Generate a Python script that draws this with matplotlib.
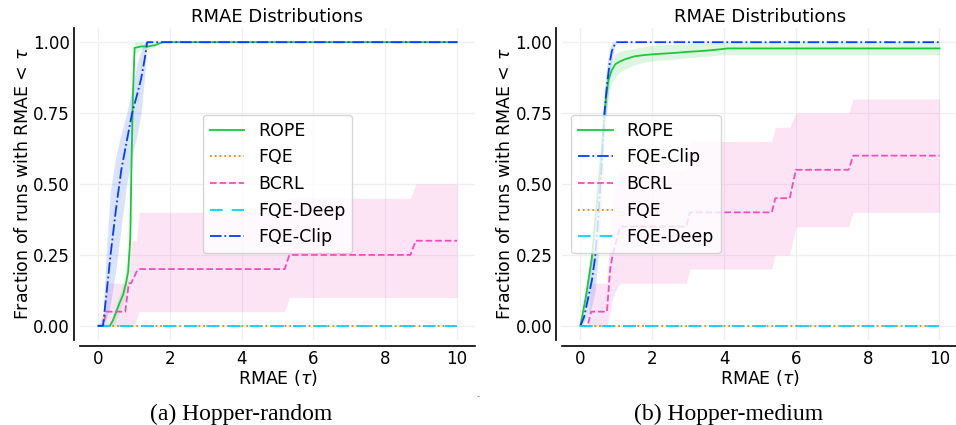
import matplotlib
matplotlib.use("Agg")
import matplotlib.pyplot as plt
import numpy as np

# colours (seaborn "bright")
GREEN = "#1ac938"
BLUE = "#023eff"
PINK = "#f14cc1"
ORANGE = "#ff7c00"
CYAN = "#00d7ff"

zero_tau = [0, 10]
zero_val = [0, 0]

# ---- Hopper-random ----
rope_r_tau = [0, 0.33, 0.42, 0.51, 0.6, 0.7, 0.78, 0.84, 0.9, 0.93, 0.97, 1.02, 1.2, 1.4, 1.6, 1.8, 10]
rope_r_mean = [0, 0, 0.02, 0.05, 0.08, 0.11, 0.15, 0.19, 0.31, 0.55, 0.8, 0.98, 0.985, 0.985, 0.99, 1.0, 1.0]
rope_r_lo = [0, 0, 0, 0.02, 0.05, 0.08, 0.11, 0.15, 0.25, 0.45, 0.72, 0.96, 0.975, 0.975, 0.985, 1.0, 1.0]
rope_r_hi = [0, 0, 0.04, 0.08, 0.11, 0.15, 0.2, 0.25, 0.4, 0.65, 0.88, 1.0, 1.0, 1.0, 1.0, 1.0, 1.0]

clip_r_tau = [0, 0.14, 0.25, 0.35, 0.5, 0.65, 0.8, 0.95, 1.1, 1.2, 1.3, 1.37, 10]
clip_r_mean = [0, 0, 0.13, 0.25, 0.41, 0.55, 0.65, 0.75, 0.82, 0.87, 0.94, 1.0, 1.0]
clip_r_lo = [0, 0, 0.03, 0.08, 0.2, 0.35, 0.5, 0.6, 0.68, 0.75, 0.88, 1.0, 1.0]
clip_r_hi = [0, 0.04, 0.3, 0.48, 0.6, 0.68, 0.75, 0.84, 0.93, 0.97, 1.0, 1.0, 1.0]

bcrl_r_tau = [0, 0.14, 0.23, 0.76, 0.86, 0.92, 1.02, 1.07, 1.15, 5.2, 5.33, 8.7, 8.85, 10]
bcrl_r_mean = [0, 0, 0.05, 0.05, 0.15, 0.15, 0.175, 0.19, 0.2, 0.2, 0.25, 0.25, 0.3, 0.3]
bcrl_r_lo = [0, 0, 0, 0, 0, 0, 0, 0.02, 0.05, 0.05, 0.1, 0.1, 0.1, 0.1]
bcrl_r_hi = [0, 0, 0.15, 0.15, 0.15, 0.3, 0.3, 0.3, 0.4, 0.4, 0.45, 0.45, 0.5, 0.5]

# ---- Hopper-medium ----
rope_m_tau = [0, 0.15, 0.32, 0.45, 0.55, 0.62, 0.67, 0.72, 0.78, 0.87, 0.97, 1.1, 1.25,
              1.5, 1.8, 2.1, 2.6, 3.0, 3.5, 3.9, 4.1, 10]
rope_m_mean = [0, 0.1, 0.24, 0.42, 0.56, 0.66, 0.74, 0.81, 0.865, 0.9, 0.922, 0.932, 0.94,
               0.95, 0.955, 0.958, 0.962, 0.966, 0.97, 0.975, 0.978, 0.978]
rope_m_lo = [0, 0.08, 0.2, 0.36, 0.5, 0.6, 0.68, 0.75, 0.81, 0.855, 0.875, 0.895, 0.905,
             0.92, 0.93, 0.935, 0.94, 0.945, 0.95, 0.955, 0.956, 0.956]
rope_m_hi = [0, 0.12, 0.28, 0.47, 0.62, 0.72, 0.8, 0.86, 0.91, 0.94, 0.96, 0.968, 0.972,
             0.978, 0.985, 0.99, 0.993, 0.995, 0.997, 0.999, 1.0, 1.0]

clip_m_tau = [0, 0.1, 0.22, 0.32, 0.41, 0.5, 0.6, 0.67, 0.75, 0.82, 0.88, 0.95, 1.01, 10]
clip_m_mean = [0, 0.03, 0.1, 0.16, 0.24, 0.38, 0.58, 0.75, 0.86, 0.93, 0.97, 0.99, 1.0, 1.0]
clip_m_lo = [0, 0.01, 0.04, 0.07, 0.12, 0.25, 0.45, 0.65, 0.78, 0.88, 0.94, 0.98, 1.0, 1.0]
clip_m_hi = [0, 0.05, 0.16, 0.25, 0.33, 0.5, 0.7, 0.84, 0.93, 0.98, 1.0, 1.0, 1.0, 1.0]

bcrl_m_tau = [0, 0.2, 0.3, 0.74, 0.83, 0.9, 1.0, 1.11, 2.95, 3.05, 5.33, 5.43, 5.83, 6.0, 7.47, 7.6, 10]
bcrl_m_mean = [0, 0, 0.05, 0.05, 0.2, 0.25, 0.3, 0.35, 0.35, 0.4, 0.4, 0.45, 0.45, 0.55, 0.55, 0.6, 0.6]
bcrl_m_lo = [0, 0, 0, 0, 0.05, 0.1, 0.13, 0.15, 0.15, 0.2, 0.2, 0.25, 0.25, 0.35, 0.35, 0.4, 0.4]
bcrl_m_hi = [0, 0, 0.15, 0.15, 0.35, 0.45, 0.53, 0.55, 0.55, 0.65, 0.65, 0.7, 0.7, 0.75, 0.75, 0.8, 0.8]

yticks = [0.0, 0.25, 0.5, 0.75, 1.0]
xticks = [0, 2, 4, 6, 8, 10]

plt.rcParams["font.family"] = ["DejaVu Sans"]

fig = plt.figure(figsize=(9.56, 4.25), dpi=100)
ax1 = fig.add_axes([0.0837, 0.2, 0.4132, 0.7341])
ax2 = fig.add_axes([0.5883, 0.2, 0.4132, 0.7341])


def band(ax, tau, mean, lo, hi, color, label, ls, lw=1.3):
    ax.fill_between(tau, lo, hi, color=color, alpha=0.15, linewidth=0)
    ax.plot(tau, mean, color=color, linestyle=ls, linewidth=lw, label=label)


def flat(ax, color, label, ls, lw=1.3):
    ax.plot(zero_tau, zero_val, color=color, linestyle=ls, linewidth=lw, label=label)


deep_ls = (0, (7, 5))

# left: ROPE, FQE, BCRL, FQE-Deep, FQE-Clip
band(ax1, rope_r_tau, rope_r_mean, rope_r_lo, rope_r_hi, GREEN, "ROPE", "-")
flat(ax1, ORANGE, "FQE", ":")
band(ax1, bcrl_r_tau, bcrl_r_mean, bcrl_r_lo, bcrl_r_hi, PINK, "BCRL", "--")
flat(ax1, CYAN, "FQE-Deep", deep_ls)
band(ax1, clip_r_tau, clip_r_mean, clip_r_lo, clip_r_hi, BLUE, "FQE-Clip", "-.")

# right: ROPE, FQE-Clip, BCRL, FQE, FQE-Deep
band(ax2, rope_m_tau, rope_m_mean, rope_m_lo, rope_m_hi, GREEN, "ROPE", "-")
band(ax2, clip_m_tau, clip_m_mean, clip_m_lo, clip_m_hi, BLUE, "FQE-Clip", "-.")
band(ax2, bcrl_m_tau, bcrl_m_mean, bcrl_m_lo, bcrl_m_hi, PINK, "BCRL", "--")
flat(ax2, ORANGE, "FQE", ":")
flat(ax2, CYAN, "FQE-Deep", deep_ls)

for ax, loc in [(ax1, "center"), (ax2, "center left")]:
    ax.set_xticks(xticks)
    ax.set_yticks(yticks)
    ax.set_yticklabels(["%.2f" % v for v in yticks])
    ax.tick_params(length=0, labelsize=12, pad=3)
    ax.grid(True, color="#efefef", linewidth=0.9)
    ax.set_axisbelow(True)
    for s in ["top", "right"]:
        ax.spines[s].set_visible(False)
    for s in ["left", "bottom"]:
        ax.spines[s].set_position(("outward", 4.3))
        ax.spines[s].set_color("black")
        ax.spines[s].set_linewidth(1.2)
    ax.set_title("RMAE Distributions", fontsize=13, pad=4)
    ax.set_xlabel(r"RMAE ($\tau$)", fontsize=12.5, labelpad=0)
    ax.set_ylabel(r"Fraction of runs with RMAE < $\tau$", fontsize=12.5, labelpad=1)
    ax.legend(loc=loc, fontsize=12.5, handlelength=2.0)

fig.text(0.252, 0.0106, "(a) Hopper-random", family="Liberation Serif", fontsize=17,
         ha="center", va="baseline")
fig.text(0.762, 0.0106, "(b) Hopper-medium", family="Liberation Serif", fontsize=17,
         ha="center", va="baseline")
fig.text(0.5, 0.066, "-", fontsize=6, color="#777777", ha="center", va="center")

fig.savefig("out.png", dpi=100)
